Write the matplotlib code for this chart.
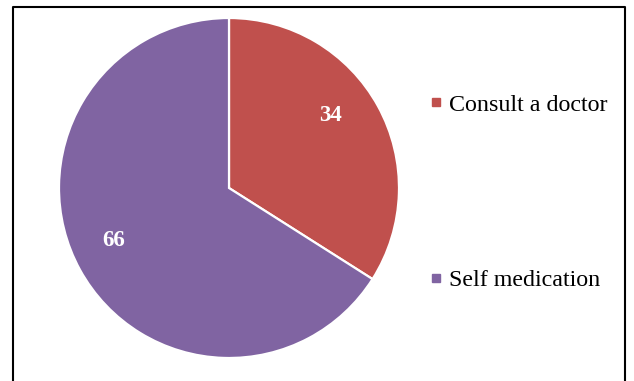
import matplotlib
matplotlib.use("Agg")
import matplotlib.pyplot as plt
from matplotlib.lines import Line2D

# data
labels = ["Consult a doctor", "Self medication"]
values = [34, 66]
colors = ["#C0504D", "#8064A2"]

plt.rcParams['font.family'] = ['Liberation Serif', 'DejaVu Serif']

fig = plt.figure(figsize=(6.34, 3.81), dpi=100)

# pie axes placed in pixel terms (center ~ (229,188), r ~ 170)
ax = fig.add_axes([59 / 634, 23 / 381, 340 / 634, 340 / 381])
wedges, texts, autotexts = ax.pie(
    values, colors=colors, startangle=90, counterclock=False,
    autopct=lambda p: f"{p:.0f}", pctdistance=0.74,
    wedgeprops=dict(edgecolor='white', linewidth=1.6),
    textprops=dict(color='white', fontsize=16.5, fontweight='bold'))
ax.set_aspect('equal')
ax.set_xlim(-1, 1)
ax.set_ylim(-1, 1)

# nudge value labels a bit (Excel "best fit" placement)
for t, (ddx, ddy) in zip(autotexts, [(-0.05, 0.07), (-0.03, 0.045)]):
    px, py = t.get_position()
    t.set_position((px + ddx, py + ddy))

# legend with square markers
handles = [Line2D([], [], marker='s', linestyle='none', markersize=6,
                  markerfacecolor=c, markeredgecolor=c) for c in colors]
fig.legend(handles, labels, loc='upper left',
           bbox_to_anchor=(429 / 634, 1 - 94 / 381),
           frameon=False, fontsize=17.3, labelspacing=6.4,
           handlelength=0.55, handletextpad=0.3, borderpad=0,
           borderaxespad=0)

# outer frame (left, top, right)
x0, x1, yt = 12.5 / 634, 624.5 / 634, 1 - 6.5 / 381
fig.add_artist(Line2D([x0, x0, x1, x1], [-0.01, yt, yt, -0.01],
                      transform=fig.transFigure, color='black', lw=1.5))

fig.savefig('out.png', dpi=100)
